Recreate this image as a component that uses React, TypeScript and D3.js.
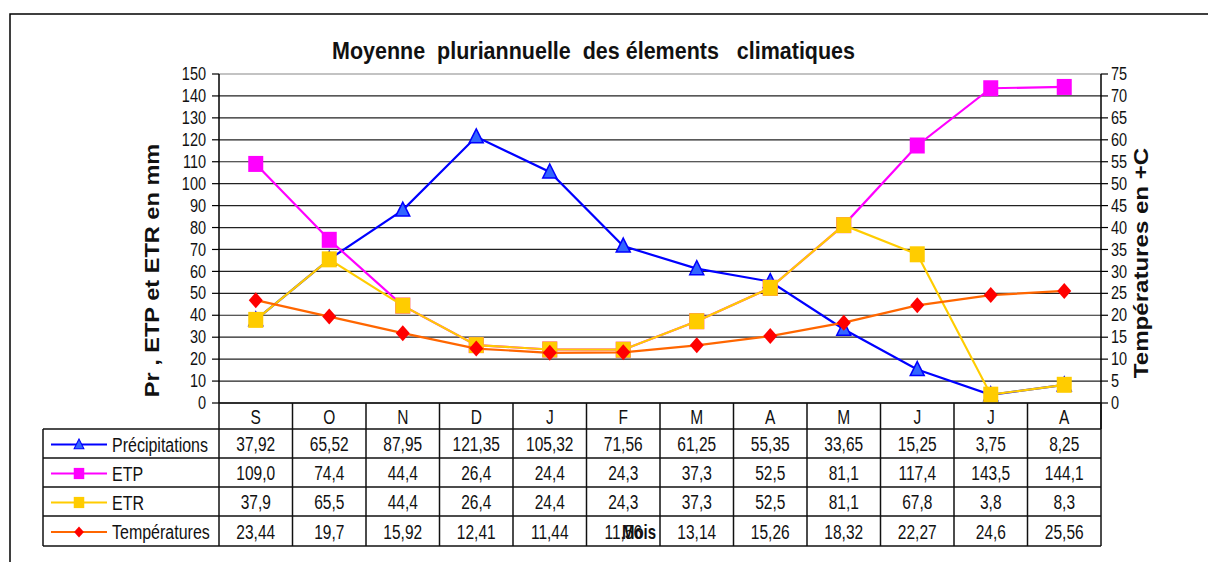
import React from 'react'
import * as d3 from 'd3'

const months = ['S', 'O', 'N', 'D', 'J', 'F', 'M', 'A', 'M', 'J', 'J', 'A']
const precip = [37.92, 65.52, 87.95, 121.35, 105.32, 71.56, 61.25, 55.35, 33.65, 15.25, 3.75, 8.25]
const etp = [109.0, 74.4, 44.4, 26.4, 24.4, 24.3, 37.3, 52.5, 81.1, 117.4, 143.5, 144.1]
const etr = [37.9, 65.5, 44.4, 26.4, 24.4, 24.3, 37.3, 52.5, 81.1, 67.8, 3.8, 8.3]
const temps = [23.44, 19.7, 15.92, 12.41, 11.44, 11.56, 13.14, 15.26, 18.32, 22.27, 24.6, 25.56]

// labels as printed in the table
const precipLbl = ['37,92', '65,52', '87,95', '121,35', '105,32', '71,56', '61,25', '55,35', '33,65', '15,25', '3,75', '8,25']
const etpLbl = ['109,0', '74,4', '44,4', '26,4', '24,4', '24,3', '37,3', '52,5', '81,1', '117,4', '143,5', '144,1']
const etrLbl = ['37,9', '65,5', '44,4', '26,4', '24,4', '24,3', '37,3', '52,5', '81,1', '67,8', '3,8', '8,3']
const tempLbl = ['23,44', '19,7', '15,92', '12,41', '11,44', '11,56', '13,14', '15,26', '18,32', '22,27', '24,6', '25,56']

const leftTicks = d3.range(0, 151, 10)
const rightTicks = d3.range(0, 76, 5)

const FONT = 'Liberation Sans, Arial, sans-serif'
const SY = 1.3 // the original picture is stretched vertically

const plot = { left: 219, right: 1101, top: 74, bottom: 403 }
const rowY = [403, 429, 458, 487, 516, 546]
const tableLeft = 43

const T = ({ x, y, size, anchor = 'middle', bold = false, len, children }: any) => (
  <text
    transform={`translate(${x},${y}) scale(1,${SY})`}
    fontSize={size}
    fontFamily={FONT}
    fontWeight={bold ? 'bold' : 'normal'}
    textAnchor={anchor}
    dominantBaseline="central"
    fill="#111"
    textLength={len}
    lengthAdjust={len ? 'spacingAndGlyphs' : undefined}
    style={{ whiteSpace: 'pre' }}
  >
    {children}
  </text>
)

const Marker = ({ kind, x, y, fill, stroke }: any) => {
  if (kind === 'tri') {
    return <path d={`M${x},${y - 8}L${x + 7},${y + 6}L${x - 7},${y + 6}Z`} fill={fill} stroke={stroke} strokeWidth={1.5} />
  }
  if (kind === 'dia') {
    return <path d={`M${x},${y - 8}L${x + 7},${y}L${x},${y + 8}L${x - 7},${y}Z`} fill={fill} />
  }
  return <rect x={x - 7.5} y={y - 8} width={15} height={16} fill={fill} />
}

const series = [
  { name: 'Précipitations', values: precip, labels: precipLbl, axis: 'l', line: '#0000FF', fill: '#3366FF', stroke: '#0000FF', kind: 'tri' },
  { name: 'ETP', values: etp, labels: etpLbl, axis: 'l', line: '#FF00FF', fill: '#FF00FF', stroke: 'none', kind: 'sq' },
  { name: 'ETR', values: etr, labels: etrLbl, axis: 'l', line: '#FFCC00', fill: '#FFCC00', stroke: 'none', kind: 'sq' },
  { name: 'Températures', values: temps, labels: tempLbl, axis: 'r', line: '#FF6600', fill: '#FF0000', stroke: 'none', kind: 'dia' },
]

export default function App() {
  const x = d3.scaleBand().domain(d3.range(12).map(String)).range([plot.left, plot.right])
  const cx = (i: number) => (x(String(i)) as number) + x.bandwidth() / 2
  const yL = d3.scaleLinear().domain([0, 150]).range([plot.bottom, plot.top])
  const yR = d3.scaleLinear().domain([0, 75]).range([plot.bottom, plot.top])

  return (
    <svg width={1208} height={562} style={{ position: 'absolute', left: 0, top: 0, background: '#fff' }}>
      <rect x={10} y={14} width={1300} height={700} fill="#fff" stroke="#000" strokeWidth={1.5} />

      <T x={593.5} y={51} size={19} bold len={523}>{'Moyenne  pluriannuelle  des élements   climatiques'}</T>

      {/* gridlines */}
      {leftTicks.map((t) => (
        <line key={t} x1={plot.left} x2={plot.right} y1={yL(t)} y2={yL(t)} stroke={t === 150 ? '#888' : '#222'} strokeWidth={1.2} />
      ))}

      {/* left axis */}
      <line x1={plot.left} x2={plot.left} y1={plot.top} y2={plot.bottom} stroke="#000" strokeWidth={1.5} />
      {leftTicks.map((t) => (
        <g key={t}>
          <line x1={plot.left - 7} x2={plot.left} y1={yL(t)} y2={yL(t)} stroke="#000" strokeWidth={1.2} />
          <T x={plot.left - 13} y={yL(t)} size={14.5} anchor="end">{t}</T>
        </g>
      ))}

      {/* right axis */}
      <line x1={plot.right} x2={plot.right} y1={plot.top} y2={rowY[1]} stroke="#000" strokeWidth={1.5} />
      {rightTicks.map((t) => (
        <g key={t}>
          <line x1={plot.right} x2={plot.right + 7} y1={yR(t)} y2={yR(t)} stroke="#000" strokeWidth={1.2} />
          <T x={plot.right + 10} y={yR(t)} size={14.5} anchor="start">{t}</T>
        </g>
      ))}

      {/* axis titles */}
      <text
        transform={`translate(152,${(plot.top + plot.bottom) / 2 + 32}) rotate(-90) scale(${SY * 0.93},1)`}
        fontSize={19.5}
        fontFamily={FONT}
        fontWeight="bold"
        textAnchor="middle"
        dominantBaseline="central"
        fill="#111"
      >
        Pr , ETP et ETR en mm
      </text>
      <text
        transform={`translate(1141,263) rotate(-90) scale(${SY * 0.95},1)`}
        fontSize={19.5}
        fontFamily={FONT}
        fontWeight="bold"
        textAnchor="middle"
        dominantBaseline="central"
        fill="#111"
      >
        Températures en +C
      </text>

      {/* series */}
      {series.map((s) => {
        const y = s.axis === 'l' ? yL : yR
        const line = d3.line<number>().x((_, i) => cx(i)).y((v) => y(v))
        return (
          <g key={s.name}>
            <path d={line(s.values) as string} fill="none" stroke={s.line} strokeWidth={2.2} />
            {s.values.map((v, i) => (
              <Marker key={i} kind={s.kind} x={cx(i)} y={y(v)} fill={s.fill} stroke={s.stroke} />
            ))}
          </g>
        )
      })}

      {/* data table */}
      <g stroke="#111" strokeWidth={1.5}>
        <line x1={plot.left} x2={plot.right} y1={rowY[0]} y2={rowY[0]} />
        {rowY.slice(1).map((ry) => (
          <line key={ry} x1={tableLeft} x2={plot.right} y1={ry} y2={ry} />
        ))}
        <line x1={tableLeft} x2={tableLeft} y1={rowY[1]} y2={rowY[5]} />
        {d3.range(13).map((i) => {
          const xx = i === 12 ? plot.right : (x(String(i)) as number)
          return <line key={i} x1={xx} x2={xx} y1={rowY[0]} y2={rowY[5]} />
        })}
      </g>
      {months.map((m, i) => (
        <T key={i} x={cx(i)} y={(rowY[0] + rowY[1]) / 2 + 1} size={15.5}>{m}</T>
      ))}
      {series.map((s, r) => {
        const yc = (rowY[r + 1] + rowY[r + 2]) / 2 + 1
        return (
          <g key={s.name}>
            <line x1={51} x2={107} y1={yc} y2={yc} stroke={s.line} strokeWidth={2.2} />
            <g transform={`translate(79,${yc}) scale(0.7)`}>
              <Marker kind={s.kind} x={0} y={0} fill={s.fill} stroke={s.stroke} />
            </g>
            <T x={112} y={yc} size={16} anchor="start">{s.name}</T>
            {s.labels.map((l, i) => (
              <T key={i} x={cx(i)} y={yc} size={15.5}>{l}</T>
            ))}
          </g>
        )
      })}
      <T x={639} y={(rowY[4] + rowY[5]) / 2 + 1} size={15} bold>Mois</T>
    </svg>
  )
}
